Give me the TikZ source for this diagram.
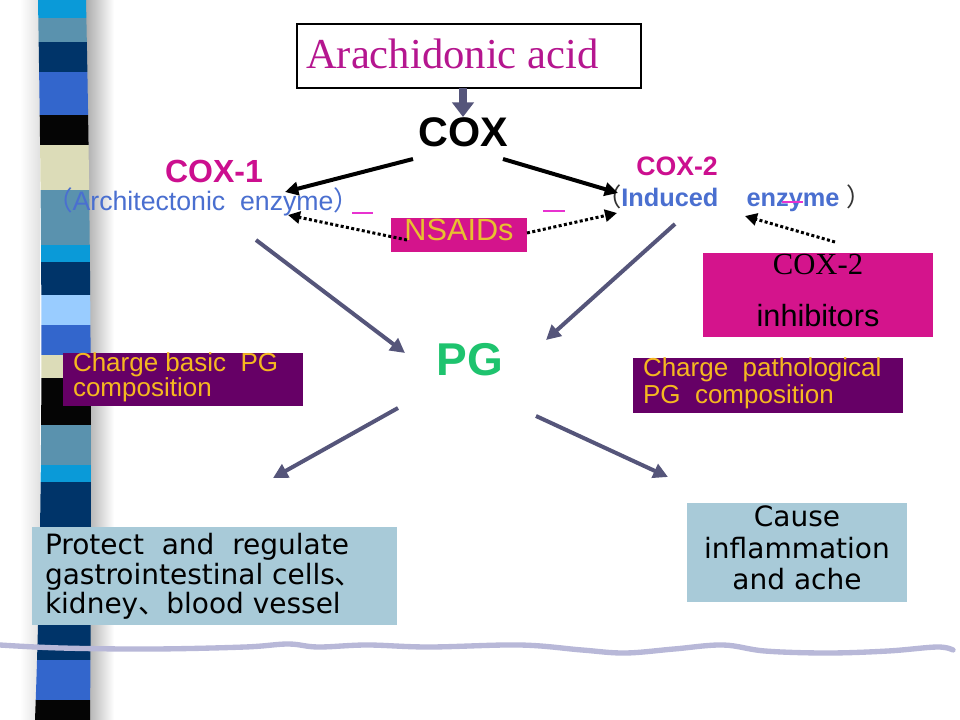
\documentclass[tikz,border=0pt]{standalone}
\usepackage{fontspec}
\setmainfont{Liberation Sans}
\newfontfamily\tnr{Liberation Serif}
\newfontfamily\dvs{DejaVu Sans}
\newfontfamily\cjk{Noto Sans CJK SC}
\usetikzlibrary{arrows.meta}
\definecolor{cyanS}{HTML}{0A9AD8}
\definecolor{steelS}{HTML}{5A92AE}
\definecolor{navyS}{HTML}{003469}
\definecolor{royalS}{HTML}{3366CC}
\definecolor{blackS}{HTML}{050505}
\definecolor{beigeS}{HTML}{DCDCB8}
\definecolor{lightS}{HTML}{99CCFF}
\definecolor{arachC}{HTML}{B5168F}
\definecolor{magC}{HTML}{CC0F8F}
\definecolor{blueT}{HTML}{4A6FD0}
\definecolor{pinkBox}{HTML}{D4148C}
\definecolor{goldT}{HTML}{E8C030}
\definecolor{orangeT}{HTML}{F5B820}
\definecolor{purpleBox}{HTML}{660066}
\definecolor{lightBox}{HTML}{A8CAD8}
\definecolor{greenT}{HTML}{1EC36E}
\definecolor{arrowG}{HTML}{55557A}
\definecolor{dashM}{HTML}{E832D0}
\definecolor{waveC}{HTML}{B8B8D8}
\newcommand\fsz[2]{\fontsize{#1}{#2}\selectfont}
\begin{document}
\begin{tikzpicture}[x=0.75pt,y=-0.75pt,
  txt/.style={inner sep=0pt,outer sep=0pt},
  boxshape/.style={rectangle,inner sep=0pt,outer sep=0pt},
  grayarrow/.style={draw=arrowG,line width=3pt,-{Triangle[length=11pt,width=11pt]}},
  blackarrow/.style={draw=black,line width=3pt,-{Triangle[length=10pt,width=10pt]}},
  dotarrow/.style={draw=black,line width=2.25pt,dash pattern=on 2.25pt off 1.8pt,-{Triangle[length=9pt,width=9pt]}},
  minus/.style={draw=dashM,line width=2pt}]
\useasboundingbox (0,0) rectangle (960,720);
\fill[white] (0,0) rectangle (960,720);
% shadow of the stripe
\shade[left color=black!35,right color=white] (84,0) rectangle (114,720);
\shade[left color=white,right color=black!12] (20,0) rectangle (40,720);
% striped band
\begin{scope}
\clip (38,0) .. controls (42,240) and (44,480) .. (35,720) -- (90,720) .. controls (92,480) and (91,240) .. (86,0) -- cycle;
\foreach \a/\b/\c in {0/18/cyanS,18/42/steelS,42/72/navyS,72/115/royalS,115/145/blackS,145/190/beigeS,190/245/steelS,245/262/cyanS,262/295/navyS,295/325/lightS,325/355/royalS,355/378/beigeS,378/425/blackS,425/465/steelS,465/482/cyanS,482/545/navyS,545/580/lightS,580/595/cyanS,595/612/beigeS,612/660/navyS,660/700/royalS,700/720/blackS}
  \fill[\c] (0,\a) rectangle (120,\b);
\end{scope}
% wavy rule
\draw[waveC,line width=4pt,line cap=round] plot[smooth,tension=0.6] coordinates {(0,645) (61,648) (153,649) (245,647) (288,644) (318,647) (367,645) (429,647) (520,645) (582,650) (625,653) (674,649) (723,645) (765,651) (827,653) (888,651) (937,647) (953,650)};
% boxes
\node[boxshape,draw=black,line width=0.9pt,fill=white,minimum width=258pt,minimum height=48pt] (aabox) at (469,56) {};
\node[boxshape,fill=pinkBox,minimum width=102pt,minimum height=25.5pt] (nsbox) at (459,235) {};
\node[boxshape,fill=pinkBox,minimum width=172.5pt,minimum height=63pt] (inhbox) at (818,295) {};
\node[boxshape,fill=purpleBox,minimum width=180pt,minimum height=39.75pt] (cbbox) at (183,379.5) {};
\node[boxshape,fill=purpleBox,minimum width=202.5pt,minimum height=41.25pt] (cpbox) at (768,385.5) {};
\node[boxshape,fill=lightBox,minimum width=273.75pt,minimum height=73.5pt] (pbox) at (214.5,576) {};
\node[boxshape,fill=lightBox,minimum width=165pt,minimum height=74.25pt] (cbox) at (797,552.5) {};
% texts
\node[txt,anchor=base west,text=arachC] (aa) at (306,69) {\tnr\fsz{32pt}{32pt}Arachidonic acid};
\node[txt,anchor=base] (cox) at (463,147) {\fsz{31pt}{31pt}\bfseries COX};
\node[txt,anchor=base,text=magC] (cox1) at (214,183) {\fsz{24pt}{24pt}\bfseries COX-1};
\node[txt,anchor=base west,text=blueT] (arch) at (46,211) {\fsz{20pt}{20pt}{\cjk （}Architectonic\ \ enzyme{\cjk ）}};
\node[txt,anchor=base,text=magC] (cox2) at (677,176) {\fsz{20pt}{20pt}\bfseries COX-2};
\node[txt,anchor=base west] (ind) at (596,207) {\fsz{19pt}{19pt}{\color{black!80}\cjk （}\textcolor{blueT}{\bfseries Induced\ \ \ \ enzyme}\ {\color{black!80}\cjk ）}};
\node[txt,anchor=base,text=goldT] (ns) at (459,240.5) {\fsz{23pt}{23pt}NSAIDs};
\node[txt,anchor=base] (inh1) at (818,275) {\tnr\fsz{23pt}{23pt}COX-2};
\node[txt,anchor=base] (inh2) at (818,326) {\fsz{23pt}{23pt}inhibitors};
\node[txt,anchor=base,text=greenT] (pg) at (470,375) {\fsz{34.5pt}{34.5pt}\bfseries PG};
\node[txt,anchor=base west,text=orangeT] (cb1) at (73,371) {\fsz{19.5pt}{19.5pt}Charge basic\ \ PG};
\node[txt,anchor=base west,text=orangeT] (cb2) at (73,396) {\fsz{19.5pt}{19.5pt}composition};
\node[txt,anchor=base west,text=orangeT] (cp1) at (643,376) {\fsz{19.5pt}{19.5pt}Charge\ \ pathological};
\node[txt,anchor=base west,text=orangeT] (cp2) at (643,403) {\fsz{19.5pt}{19.5pt}PG\ \ composition};
\node[txt,anchor=base west] (p1) at (45,554) {\dvs\fsz{21pt}{21pt}Protect\ \ and\ \ regulate};
\node[txt,anchor=base west] (p2) at (45,584) {\dvs\fsz{21pt}{21pt}gastrointestinal cells{\cjk 、}};
\node[txt,anchor=base west] (p3) at (45,613) {\dvs\fsz{21pt}{21pt}kidney{\cjk 、}blood vessel};
\node[txt,anchor=base] (c1) at (797,526) {\dvs\fsz{21pt}{21pt}Cause};
\node[txt,anchor=base] (c2) at (797,558) {\dvs\fsz{21pt}{21pt}inflammation};
\node[txt,anchor=base] (c3) at (797,589) {\dvs\fsz{21pt}{21pt}and ache};
% connector end points
\coordinate (aaS) at (463,88);
\coordinate (coxN) at (463,117);
\coordinate (coxL) at (413,159);
\coordinate (c1tip) at (285,192);
\coordinate (coxR) at (503,159);
\coordinate (c2tip) at (618,193);
\coordinate (nsL) at (407,240);
\coordinate (d1tip) at (288,215);
\coordinate (nsR) at (527,233);
\coordinate (d2tip) at (617,213);
\coordinate (inhT) at (835,242);
\coordinate (d3tip) at (745,216);
\coordinate (g1s) at (256,240);
\coordinate (g1t) at (405,353);
\coordinate (g2s) at (675,224);
\coordinate (g2t) at (546,340);
\coordinate (g3s) at (398,408);
\coordinate (g3t) at (273,478);
\coordinate (g4s) at (536,416);
\coordinate (g4t) at (668,477);
% connectors
\draw[draw=arrowG,line width=6pt,-{Triangle[length=11pt,width=16pt]}] (aaS) -- (coxN);
\draw[blackarrow] (coxL) -- (c1tip);
\draw[blackarrow] (coxR) -- (c2tip);
\draw[dotarrow] (nsL) -- (d1tip);
\draw[dotarrow] (nsR) -- (d2tip);
\draw[dotarrow] (inhT) -- (d3tip);
\draw[grayarrow] (g1s) -- (g1t);
\draw[grayarrow] (g2s) -- (g2t);
\draw[grayarrow] (g3s) -- (g3t);
\draw[grayarrow] (g4s) -- (g4t);
% minus signs
\coordinate (m1a) at (352,213); \coordinate (m1b) at (373,213);
\coordinate (m2a) at (543,211); \coordinate (m2b) at (565,211);
\coordinate (m3a) at (782,202); \coordinate (m3b) at (803,202);
\draw[minus] (m1a) -- (m1b);
\draw[minus] (m2a) -- (m2b);
\draw[minus] (m3a) -- (m3b);
\end{tikzpicture}
\end{document}
